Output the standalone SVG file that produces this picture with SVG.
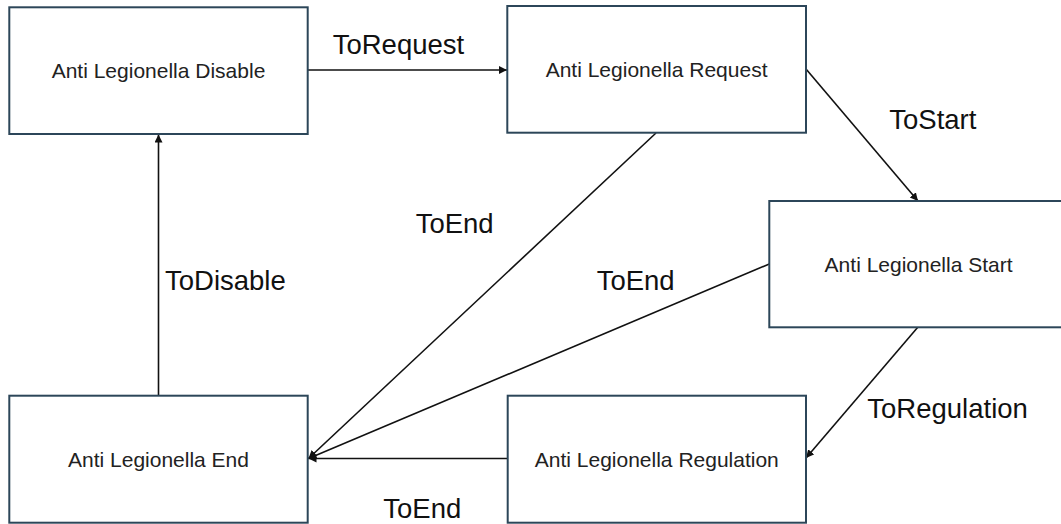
<svg xmlns="http://www.w3.org/2000/svg" width="1061" height="524" viewBox="0 0 1061 524">
<style>
.box{fill:#fff;stroke:#2c4659;stroke-width:2}
.nt{font-family:"Liberation Sans",Arial,sans-serif;font-size:21px;fill:#222;text-anchor:middle}
.lb{font-family:"Liberation Sans",Arial,sans-serif;font-size:27.5px;fill:#111}
.ln{stroke:#111;stroke-width:1.6;fill:none;marker-end:url(#ah)}
</style>
<defs>
<marker id="ah" markerUnits="userSpaceOnUse" markerWidth="10" markerHeight="10" refX="8" refY="4" orient="auto">
<path d="M0,0 L8,4 L0,8 Z" fill="#111"/>
</marker>
</defs>
<rect width="1061" height="524" fill="#fff"/>
<g id="connectors">
<line class="ln" x1="308" y1="70" x2="507" y2="70"/>
<line class="ln" x1="806" y1="69" x2="918" y2="201"/>
<line class="ln" x1="918" y1="327" x2="806" y2="458"/>
<line class="ln" x1="507.7" y1="458.5" x2="308.5" y2="458.5"/>
<line class="ln" x1="656" y1="133" x2="308.5" y2="458.5"/>
<line class="ln" x1="769.3" y1="264" x2="308.5" y2="458.5"/>
<line class="ln" x1="158.5" y1="395.7" x2="158.5" y2="134.5"/>
</g>
<g id="labels">
<text class="lb" x="332.7" y="54.3">ToRequest</text>
<text class="lb" x="889.3" y="129.3">ToStart</text>
<text class="lb" x="867.3" y="418.3">ToRegulation</text>
<text class="lb" x="415.7" y="233.3">ToEnd</text>
<text class="lb" x="596.7" y="290">ToEnd</text>
<text class="lb" x="383.3" y="518.3">ToEnd</text>
<text class="lb" x="165" y="290">ToDisable</text>
</g>
<g id="node-disable">
<rect class="box" x="9.3" y="7.3" width="298.4" height="126.7"/>
<text class="nt" x="158.5" y="77.5">Anti Legionella Disable</text>
</g>
<g id="node-request">
<rect class="box" x="507.3" y="6" width="298.7" height="126.7"/>
<text class="nt" x="656.6" y="76.7">Anti Legionella Request</text>
</g>
<g id="node-start">
<rect class="box" x="769.3" y="201" width="298.7" height="126.3"/>
<text class="nt" x="918.6" y="271.7">Anti Legionella Start</text>
</g>
<g id="node-regulation">
<rect class="box" x="507.7" y="395.7" width="298.3" height="127"/>
<text class="nt" x="656.8" y="466.7">Anti Legionella Regulation</text>
</g>
<g id="node-end">
<rect class="box" x="9.3" y="395.7" width="298.4" height="127"/>
<text class="nt" x="158.5" y="466.7">Anti Legionella End</text>
</g>
</svg>
